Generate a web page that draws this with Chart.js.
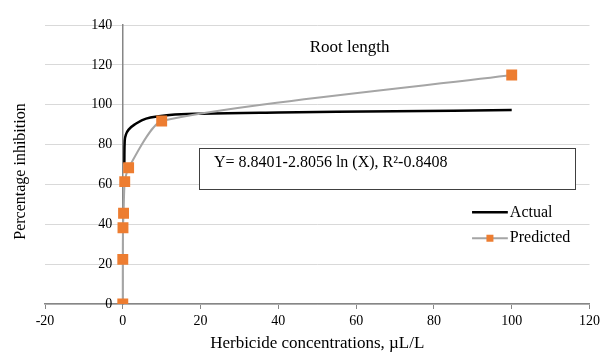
<!DOCTYPE html>
<html>
<head>
<meta charset="utf-8">
<script src="https://cdn.jsdelivr.net/npm/chart.js@4.4.0/dist/chart.umd.min.js"></script>
<style>
  html, body { margin: 0; padding: 0; background: #fff; }
  #wrap { width: 604px; height: 356px; }
</style>
</head>
<body>
<div id="wrap"><canvas id="rootChart"></canvas></div>
<script>
// values
const actualX = [0.4, 0.5, 0.8, 1.5, 3, 6, 12, 20, 40, 70, 100];
const actualY = [70.5, 82, 85, 87.5, 90, 93, 94.8, 95.5, 96.1, 96.7, 97.3];

const predictedX = [0, 0, 0.05, 0.2, 0.5, 1.5, 10, 100];
const predictedY = [0, 22.4, 38.3, 45.5, 61.4, 68.4, 91.8, 114.9];

const xTicks = [-20, 0, 20, 40, 60, 80, 100, 120];
const yTicks = [0, 20, 40, 60, 80, 100, 120, 140];

const chartTitle = 'Root length';
const equationText = 'Y= 8.8401-2.8056 ln (X), R\u00b2-0.8408';
const xTitle = 'Herbicide concentrations, \u00b5L/L';
const yTitle = 'Percentage inhibition';

const serif = '"Liberation Serif", "Times New Roman", serif';
const ORANGE = '#ed7d31';
const GRAY = '#a5a5a5';

const toPoints = (xs, ys) => xs.map((x, i) => ({ x: x, y: ys[i] }));

// title, equation box, legend and y title drawn on top
const extras = {
  id: 'extras',
  afterDraw(chart) {
    const ctx = chart.ctx;
    const xs = chart.scales.x, ys = chart.scales.y;
    const px = v => xs.getPixelForValue(v);
    const py = v => ys.getPixelForValue(v);
    ctx.save();
    ctx.fillStyle = '#000';

    // title inside plot
    ctx.font = '17px ' + serif;
    ctx.textAlign = 'center';
    ctx.textBaseline = 'middle';
    ctx.fillText(chartTitle, px(58.3), py(128.5));

    // equation box
    const bx = px(19.6), by = py(78.3);
    const bw = px(116.3) - bx, bh = py(57.7) - by;
    ctx.fillStyle = '#fff';
    ctx.fillRect(bx, by, bw, bh);
    ctx.strokeStyle = '#404040';
    ctx.lineWidth = 1;
    ctx.strokeRect(Math.round(bx) + 0.5, Math.round(by) + 0.5, Math.round(bw), Math.round(bh));
    ctx.fillStyle = '#000';
    ctx.font = '16px ' + serif;
    ctx.textAlign = 'left';
    ctx.fillText(equationText, bx + 15, by + 15);

    // legend
    const lx1 = px(89.8), lx2 = px(99);
    const ly1 = py(46), ly2 = py(33);
    ctx.lineWidth = 2.5;
    ctx.strokeStyle = '#000';
    ctx.beginPath(); ctx.moveTo(lx1, ly1); ctx.lineTo(lx2, ly1); ctx.stroke();
    ctx.lineWidth = 2;
    ctx.strokeStyle = GRAY;
    ctx.beginPath(); ctx.moveTo(lx1, ly2); ctx.lineTo(lx2, ly2); ctx.stroke();
    ctx.fillStyle = ORANGE;
    const mx = (lx1 + lx2) / 2;
    ctx.fillRect(mx - 3.5, ly2 - 3.5, 7, 7);
    ctx.fillStyle = '#000';
    ctx.font = '16px ' + serif;
    ctx.fillText('Actual', lx2 + 2, ly1);
    ctx.fillText('Predicted', lx2 + 2, ly2);

    // y axis title
    ctx.save();
    ctx.translate(21, (chart.chartArea.top + chart.chartArea.bottom) / 2 + 7);
    ctx.rotate(-Math.PI / 2);
    ctx.textAlign = 'center';
    ctx.font = '16px ' + serif;
    ctx.fillText(yTitle, 0, 0);
    ctx.restore();

    ctx.restore();
  }
};

new Chart(document.getElementById('rootChart'), {
  type: 'scatter',
  data: {
    datasets: [
      {
        label: 'Actual',
        data: toPoints(actualX, actualY),
        showLine: true,
        borderColor: '#000',
        borderWidth: 2.5,
        pointRadius: 0,
        tension: 0.4,
        order: 2
      },
      {
        label: 'Predicted',
        data: toPoints(predictedX, predictedY),
        showLine: true,
        borderColor: GRAY,
        borderWidth: 2,
        backgroundColor: ORANGE,
        pointBackgroundColor: ORANGE,
        pointBorderColor: ORANGE,
        pointStyle: 'rect',
        pointRadius: 6.3,
        tension: 0.2,
        order: 1
      }
    ]
  },
  options: {
    responsive: true,
    maintainAspectRatio: false,
    animation: false,
    layout: { padding: { left: 45, right: 12, top: 25, bottom: 0 } },
    plugins: {
      legend: { display: false },
      tooltip: { enabled: false }
    },
    scales: {
      x: {
        type: 'linear',
        position: 'bottom',
        min: -20,
        max: 120,
        afterBuildTicks: s => { s.ticks = xTicks.map(v => ({ value: v })); },
        afterFit: s => { s.height = 52; },
        grid: { drawOnChartArea: false, drawTicks: true, tickLength: 5, color: '#868686' },
        border: { color: '#868686', width: 1.5 },
        ticks: { color: '#000', font: { family: serif, size: 14 }, padding: 4, maxRotation: 0 },
        title: { display: true, text: xTitle, color: '#000', font: { family: serif, size: 17 }, padding: { top: 2, bottom: 2 } }
      },
      y: {
        type: 'linear',
        position: { x: 0 },
        min: 0,
        max: 140,
        afterBuildTicks: s => { s.ticks = yTicks.map(v => ({ value: v })); },
        grid: { drawTicks: false, color: '#d9d9d9', lineWidth: 1 },
        border: { color: '#868686', width: 1.5 },
        // labels sit right-aligned on the axis line, so pad them with spaces
        ticks: { color: '#000', font: { family: serif, size: 14 }, callback: v => v + '   ' }
      }
    }
  },
  plugins: [extras]
});
</script>
</body>
</html>
